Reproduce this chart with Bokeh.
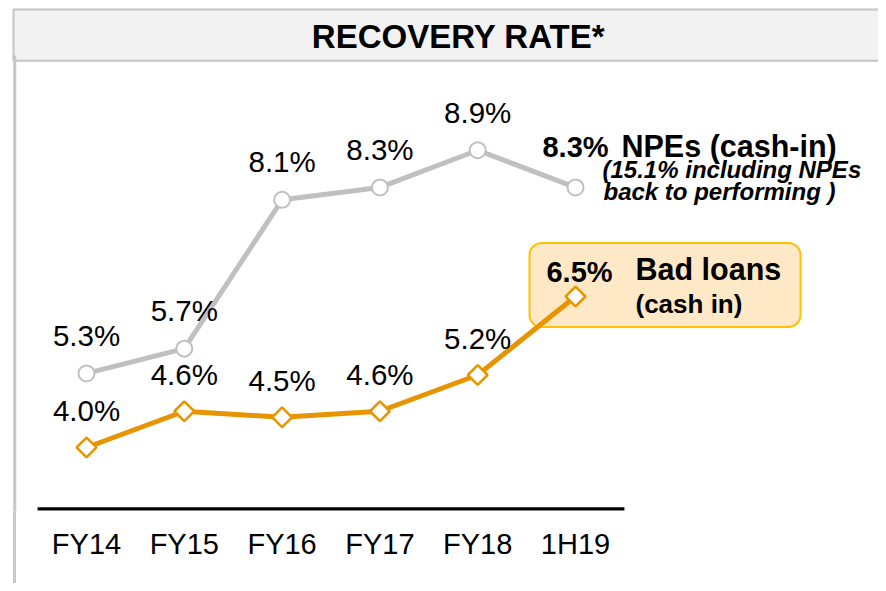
from bokeh.plotting import figure
from bokeh.models import Range1d, FixedTicker, BoxAnnotation, Label
from bokeh.core.properties import value
from bokeh.embed import file_html
from bokeh.resources import INLINE
import math

# ---------------- data ----------------
categories = ["FY14", "FY15", "FY16", "FY17", "FY18", "1H19"]
npe_cash_in = [5.3, 5.7, 8.1, 8.3, 8.9, 8.3]
bad_loans_cash_in = [4.0, 4.6, 4.5, 4.6, 5.2, 6.5]

title_text = "RECOVERY RATE*"
npe_name = "NPEs (cash-in)"
npe_note = ["(15.1%  including  NPEs", "back to performing )"]
bad_name = ["Bad loans", "(cash in)"]

# ---------------- layout ----------------
FONT = "Liberation Sans"
W, H = 878, 583
FB = 511                                # frame bottom (canvas px)
X0, X1 = -0.8793, 8.098
Y0, Y1 = 3.073, 11.315                  # NPE scale
B0, B1 = 2.940, 11.401                  # bad loans scale


def xpx(px):
    return X0 + (X1 - X0) * px / W


def ypx(py):
    return Y0 + (Y1 - Y0) * (FB - py) / FB


idx = list(range(len(categories)))

p = figure(width=W, height=H, output_backend="svg", toolbar_location=None,
           x_range=Range1d(X0, X1), y_range=Range1d(Y0, Y1),
           y_axis_location=None,
           min_border_left=0, min_border_right=0, min_border_top=0,
           min_border_bottom=H - FB)
p.extra_y_ranges = {"bad": Range1d(B0, B1)}
p.grid.visible = False
p.outline_line_color = None
p.background_fill_color = "white"
p.border_fill_color = "white"
p.border_fill_alpha = 0
# left frame rule continuing below the plotting area (behind the transparent border)
p.styles = {"background": "linear-gradient(#c8c8c8, #c8c8c8) no-repeat 13px 55px / 3px 528px"}

ax = p.xaxis[0]
ax.ticker = FixedTicker(ticks=idx)
ax.major_label_overrides = {i: c for i, c in zip(idx, categories)}
ax.axis_line_color = None
ax.major_tick_line_color = None
ax.minor_tick_line_color = None
ax.major_tick_out = 0
ax.major_tick_in = 0
ax.major_label_standoff = 16
ax.major_label_text_font = FONT
ax.major_label_text_font_size = "29px"
ax.major_label_text_color = "black"

# frame decorations
p.add_layout(BoxAnnotation(left=xpx(13), right=xpx(900), top=ypx(9), bottom=ypx(60.3),
                           fill_color="#f2f2f2", fill_alpha=1, line_color="#c4c4c4",
                           line_alpha=1, line_width=2, level="underlay"))
p.add_layout(BoxAnnotation(left=xpx(12.7), right=xpx(15.8), top=ypx(55), bottom=ypx(600),
                           fill_color="#c8c8c8", fill_alpha=1, line_color=None,
                           level="underlay"))
p.add_layout(Label(x=xpx(458), y=ypx(36), text=title_text, text_align="center",
                   text_baseline="middle", text_font=FONT, text_font_style="bold",
                   text_font_size="33px", text_color="black"))

# bad loans callout box
p.add_layout(BoxAnnotation(left=xpx(529), right=xpx(800), top=ypx(242.5), bottom=ypx(326.5),
                           fill_color="#ffe8c6", fill_alpha=1, line_color="#ffc000",
                           line_alpha=1, line_width=2, border_radius=12, level="underlay"))

# baseline
p.segment(x0=[-0.5], y0=[ypx(508.3)], x1=[len(categories) - 0.5], y1=[ypx(508.3)],
          line_color="black", line_width=3.3)

GRAY = "#c0c0c0"
ORANGE = "#e69500"

# NPE series
p.line(idx, npe_cash_in, line_color=GRAY, line_width=5)
p.scatter(idx, npe_cash_in, marker="circle", size=16, fill_color="white",
          line_color=GRAY, line_width=2)

# bad loans series
p.line(idx, bad_loans_cash_in, line_color=ORANGE, line_width=5, y_range_name="bad")
p.scatter(idx, bad_loans_cash_in, marker="square", angle=math.pi / 4, size=14,
          fill_color="white", line_color=ORANGE, line_width=2.5, y_range_name="bad")

# data labels
npe_lbl = [f"{v:.1f}%" for v in npe_cash_in]
bad_lbl = [f"{v:.1f}%" for v in bad_loans_cash_in]
p.text(idx[:-1], npe_cash_in[:-1], text=npe_lbl[:-1], text_align="center",
       text_baseline="middle", y_offset=-38, text_font=value(FONT),
       text_font_size="29.5px", text_color="black")
p.text(idx[-1:], npe_cash_in[-1:], text=npe_lbl[-1:], text_align="center",
       text_baseline="middle", y_offset=-40, text_font=value(FONT), text_font_style="bold",
       text_font_size="29px", text_color="black")
p.text(idx[:-1], bad_loans_cash_in[:-1], text=bad_lbl[:-1], text_align="center",
       text_baseline="middle", y_offset=-37, text_font=value(FONT),
       text_font_size="29.5px", text_color="black", y_range_name="bad")
p.text(idx[-1:], bad_loans_cash_in[-1:], text=bad_lbl[-1:], text_align="center",
       text_baseline="middle", x_offset=4, y_offset=-24, text_font=value(FONT),
       text_font_style="bold", text_font_size="29px", text_color="black",
       y_range_name="bad")

# series annotations
p.add_layout(Label(x=xpx(621), y=ypx(145), text=npe_name, text_align="left",
                   text_baseline="middle", text_font=FONT, text_font_style="bold",
                   text_font_size="30.5px", text_color="black"))
for t, px, py in zip(npe_note, [602, 603], [169, 191]):
    p.add_layout(Label(x=xpx(px), y=ypx(py), text=t, text_align="left",
                       text_baseline="middle", text_font=FONT, text_font_style="bold italic",
                       text_font_size="24px", text_color="black"))
p.add_layout(Label(x=xpx(635), y=ypx(268.5), text=bad_name[0], text_align="left",
                   text_baseline="middle", text_font=FONT, text_font_style="bold",
                   text_font_size="30.5px", text_color="black"))
p.add_layout(Label(x=xpx(635), y=ypx(303), text=bad_name[1], text_align="left",
                   text_baseline="middle", text_font=FONT, text_font_style="bold",
                   text_font_size="26px", text_color="black"))

open("out.html", "w").write(file_html(p, INLINE))
